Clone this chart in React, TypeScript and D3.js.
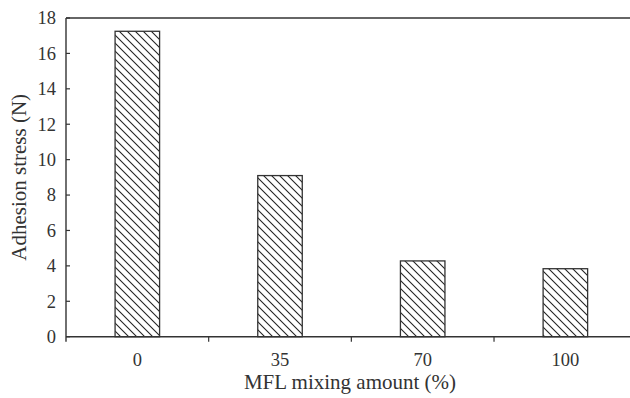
import React from "react";
import * as d3 from "d3";

const categories = ["0", "35", "70", "100"];
const values = [17.25, 9.1, 4.28, 3.84];
const yTicks = [0, 2, 4, 6, 8, 10, 12, 14, 16, 18];
const xTitle = "MFL mixing amount (%)";
const yTitle = "Adhesion stress (N)";

const W = 630;
const H = 398;
const left = 66;
const right = 636.7;
const top = 18;
const bottom = 336.7;
const FONT = "'Liberation Serif', serif";
const FS = 18.5;
const TFS = 21;
const AX = "#333";

export default function App() {
  const x = d3.scaleBand<string>().domain(categories).range([left, right]).padding(0);
  const y = d3.scaleLinear().domain([0, 18]).range([bottom, top]);
  const bw = x.bandwidth() * 0.312;
  const boundaries = categories.slice(1).map((c) => x(c) as number);

  return (
    <svg
      width={W}
      height={H}
      style={{ position: "absolute", left: 0, top: 0, background: "#fff" }}
    >
      <defs>
        <pattern id="hatch" patternUnits="userSpaceOnUse" width={8} height={8}>
          <line x1={0} y1={0} x2={8} y2={8} stroke="#222" strokeWidth={1.1} />
          <line x1={-1} y1={7} x2={1} y2={9} stroke="#222" strokeWidth={1.1} />
          <line x1={7} y1={-1} x2={9} y2={1} stroke="#222" strokeWidth={1.1} />
        </pattern>
      </defs>
      {categories.map((c, i) => {
        const cx = (x(c) as number) + x.bandwidth() / 2;
        return (
          <rect
            key={c}
            x={cx - bw / 2}
            y={y(values[i])}
            width={bw}
            height={y(0) - y(values[i])}
            fill="url(#hatch)"
            stroke={AX}
            strokeWidth={1.3}
          />
        );
      })}
      <line x1={left} x2={right} y1={top} y2={top} stroke={AX} strokeWidth={1.4} />
      <line x1={left} x2={right} y1={bottom} y2={bottom} stroke={AX} strokeWidth={1.4} />
      <line x1={left} x2={left} y1={top} y2={bottom + 5} stroke={AX} strokeWidth={1.4} />
      {boundaries.map((b, i) => (
        <line key={i} x1={b} x2={b} y1={bottom} y2={bottom + 5} stroke={AX} strokeWidth={1.2} />
      ))}
      {yTicks.map((t) => (
        <g key={t}>
          <line x1={left} x2={left + 4} y1={y(t)} y2={y(t)} stroke={AX} strokeWidth={1.2} />
          <text
            x={left - 10}
            y={y(t)}
            dy="0.34em"
            textAnchor="end"
            fontFamily={FONT}
            fontSize={FS}
            fill="#333"
          >
            {t}
          </text>
        </g>
      ))}
      {categories.map((c) => (
        <text
          key={c}
          x={(x(c) as number) + x.bandwidth() / 2}
          y={366}
          textAnchor="middle"
          fontFamily={FONT}
          fontSize={FS}
          fill="#333"
        >
          {c}
        </text>
      ))}
      <text
        x={350}
        y={389}
        textAnchor="middle"
        fontFamily={FONT}
        fontSize={TFS}
        fill="#333"
      >
        {xTitle}
      </text>
      <text
        transform={`translate(26,${(top + bottom) / 2}) rotate(-90)`}
        textAnchor="middle"
        fontFamily={FONT}
        fontSize={TFS}
        fill="#333"
      >
        {yTitle}
      </text>
    </svg>
  );
}
